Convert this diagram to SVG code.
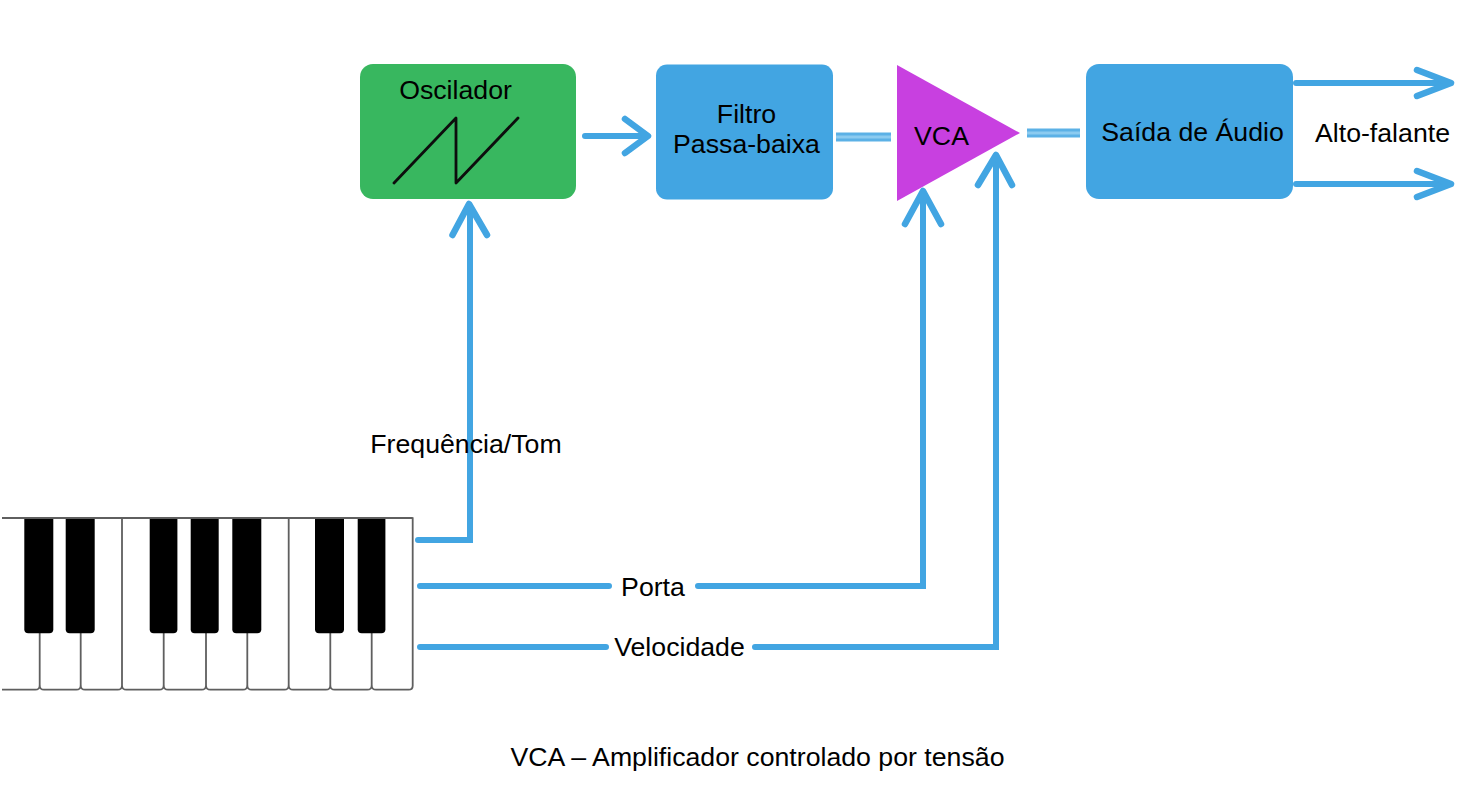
<svg xmlns="http://www.w3.org/2000/svg" width="1474" height="794" viewBox="0 0 1474 794">
<style>
text{font-family:"Liberation Sans",Arial,sans-serif;font-size:26.700px;fill:#000;text-anchor:middle}
.blue{fill:#42a5e2}
.c{fill:none;stroke:#42a5e2;stroke-width:6;stroke-linecap:round;stroke-linejoin:miter}
.h{fill:none;stroke:#42a5e2;stroke-width:6.500;stroke-linecap:round;stroke-linejoin:round}
.d{fill:none;stroke:#5cb1e6;stroke-width:9}
.d2{fill:none;stroke:#8ccbf0;stroke-width:3}
.k{fill:none;stroke:#5f5f5f;stroke-width:1.800}
</style>
<rect width="1474" height="794" fill="#fff"/>
<g id="teclado">
<path class="k" d="M2 518H412.700V685.700Q412.700 689.700 408.700 689.700H376Q372 689.700 371.700 685.700Q371.400 689.700 367.400 689.700H334.600Q330.600 689.700 330.300 685.700Q330 689.700 326 689.700H293Q289 689.700 288.700 685.700Q288.400 689.700 284.400 689.700H251.600Q247.600 689.700 247.300 685.700Q247 689.700 243 689.700H210.300Q206.300 689.700 206 685.700Q205.700 689.700 201.700 689.700H168Q164 689.700 163.700 685.700Q163.400 689.700 159.400 689.700H126.300Q122.300 689.700 122 685.700Q121.700 689.700 117.700 689.700H85Q81 689.700 80.700 685.700Q80.400 689.700 76.400 689.700H44Q40 689.700 39.700 685.700Q39.400 689.700 35.400 689.700H2"/>
<path class="k" d="M39.700 630V686M80.700 630V686M122 518V686M163.700 630V686M206 630V686M247.300 630V686M288.700 518V686M330.300 630V686M371.700 630V686"/>
<g fill="#000">
<rect x="24.300" y="510" width="29" height="123.300" rx="4"/>
<rect x="65.700" y="510" width="29" height="123.300" rx="4"/>
<rect x="149.700" y="510" width="27.700" height="123.300" rx="4"/>
<rect x="190.700" y="510" width="28" height="123.300" rx="4"/>
<rect x="232.300" y="510" width="29" height="123.300" rx="4"/>
<rect x="315" y="510" width="29" height="123.300" rx="4"/>
<rect x="357.700" y="510" width="27.700" height="123.300" rx="4"/>
</g>
<rect x="0" y="505" width="420" height="12.300" fill="#fff"/>
<path class="k" d="M2 518H412.700"/>
</g>
<g id="conectores">
<path class="c" d="M418 540H470V208"/>
<path class="h" d="M452.500 235L469 204L487 235"/>
<path class="c" d="M585 136H644"/>
<path class="h" d="M625 119L648 136L625 153"/>
<path class="d" d="M836 137H891"/><path class="d2" d="M836 137H891"/>
<path class="d" d="M1027 133H1080"/><path class="d2" d="M1027 133H1080"/>
<path class="c" d="M420 586H609M698 586H923V195"/>
<path class="h" d="M905 224L923 191L941 224"/>
<path class="c" d="M420 647H606M755 647H996V160"/>
<path class="h" d="M978 185L996 155L1012 185"/>
<path class="c" d="M1296 83H1448" stroke-linecap="butt"/>
<path class="h" d="M1417 70L1451 83L1417 96"/>
<path class="c" d="M1296 184H1448" stroke-linecap="butt"/>
<path class="h" d="M1417 171L1451 184L1417 197"/>
</g>
<g id="oscilador">
<rect x="360" y="64" width="216" height="135" rx="13" fill="#38b75f"/>
<text x="455.500" y="99">Oscilador</text>
<path d="M394 183L456 118V183L518 118" fill="none" stroke="#0d0d0d" stroke-width="2.800" stroke-linejoin="round" stroke-linecap="round"/>
</g>
<g id="filtro">
<rect x="656" y="64.500" width="177" height="135" rx="11" class="blue"/>
<text x="746.500" y="123">Filtro</text>
<text x="746.500" y="153">Passa-baixa</text>
</g>
<g id="vca">
<path d="M897 65L1020 133L897 201Z" fill="#c840e0"/>
<text x="941.500" y="145">VCA</text>
</g>
<g id="saida">
<rect x="1086" y="64" width="207" height="135" rx="13" class="blue"/>
<text x="1192.500" y="141">Saída de Áudio</text>
</g>
<g id="rotulos">
<text x="1382.500" y="142">Alto-falante</text>
<text x="466" y="453">Frequência/Tom</text>
<text x="653" y="596">Porta</text>
<text x="679.500" y="656">Velocidade</text>
<text x="757.500" y="766">VCA – Amplificador controlado por tensão</text>
</g>
</svg>
